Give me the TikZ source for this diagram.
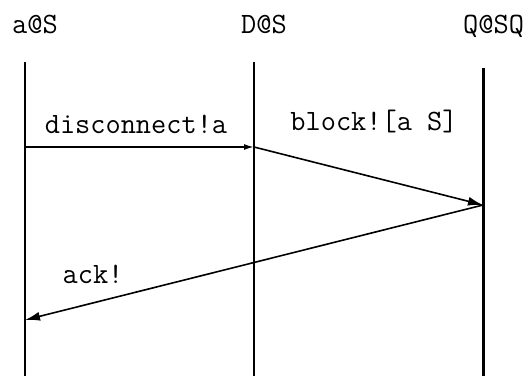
\documentclass[tikz,border=0pt]{standalone}
\usetikzlibrary{arrows.meta}
\begin{document}
\begin{tikzpicture}[%
		x=1pt,y=-1pt,
		font=\fontsize{29.5}{32}\selectfont\ttfamily,
		lifeline/.style={line width=1.6pt},
		role/.style={anchor=base west,inner sep=0pt},
		lbl/.style={anchor=base,inner sep=0pt},
		msg/.style={line width=1.6pt,-{Latex[length=15pt,width=9pt]}}]
		\useasboundingbox (0,0) rectangle (531,376);
		\node[role] (aS) at (12,33) {a@S};
		\node[role] (DS) at (241,33) {D@S};
		\node[role] (QSQ) at (463,33) {Q@SQ};
		\coordinate (aTop) at (25,62);
		\coordinate (aBot) at (25,376);
		\coordinate (DTop) at (254,62);
		\coordinate (DBot) at (254,376);
		\coordinate (QTop) at (483,68);
		\coordinate (QBot) at (483,376);
		\draw[lifeline] (aTop) -- (aBot);
		\draw[lifeline] (DTop) -- (DBot);
		\draw[lifeline,line width=3pt] (QTop) -- (QBot);
		\coordinate (disc) at (25,147);
		\coordinate (blockIn) at (254,147);
		\coordinate (blockOut) at (483,205);
		\coordinate (ackIn) at (25,320);
		\draw[msg,-{Latex[length=10pt,width=6pt]}] (disc) -- (blockIn);
		\draw[msg] (blockIn) -- (blockOut);
		\draw[msg] (blockOut) -- (ackIn);
		\node[lbl] (discLbl) at (136,133) {disconnect!a};
		\node[lbl] (blockLbl) at (374,130) {block![a S]};
		\node[lbl] (ackLbl) at (93,283) {ack!};
	\end{tikzpicture}
\end{document}
